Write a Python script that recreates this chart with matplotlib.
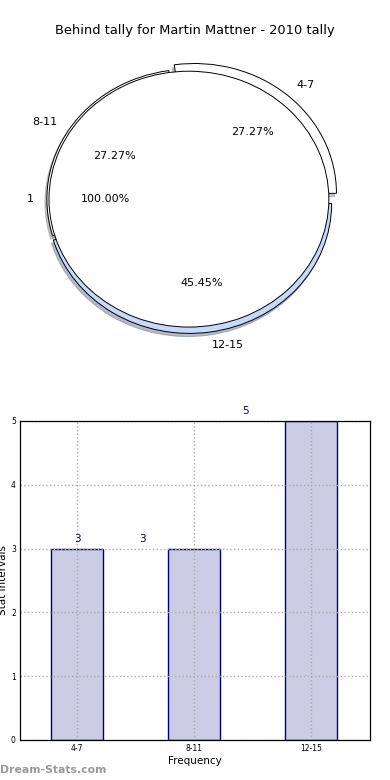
import numpy as np
import matplotlib
matplotlib.use('Agg')
from matplotlib import pyplot as plt

groups = ['4-7', '8-11', '12-15']
counts = [3, 3, 5]
inner_labels = ['1']
inner_counts = [1]
title = 'Behind tally for Martin Mattner - 2010 tally'

fig = plt.figure(figsize=(3.9, 7.8), dpi=100)
fig.text(0.499, 0.961, title, ha='center', va='center', fontsize=9.4)

shadow = dict(ox=-0.01, oy=-0.018, shade=0.45)

# pie: outer wedges per group, single inner wedge on top
ax1 = fig.add_axes([0.0359, 0.5397, 0.897, 0.410])
ax1.pie(counts, labels=groups, autopct='%.2f%%', startangle=0,
        explode=[0.06, 0.0, 0.035], shadow=shadow, radius=1.015,
        colors=['white', 'white', '#c6d9fd'], pctdistance=0.62,
        labeldistance=1.1,
        wedgeprops=dict(edgecolor='black', linewidth=0.7),
        textprops=dict(fontsize=8))
ax1.pie(inner_counts, labels=inner_labels, autopct='%.2f%%', startangle=0,
        shadow=shadow, radius=1.0, colors=['white'], pctdistance=0.6,
        labeldistance=1.11,
        wedgeprops=dict(edgecolor='black', linewidth=0.7),
        textprops=dict(fontsize=8))
ax1.set_aspect('auto')
ax1.set_xlim(-1.25, 1.25)
ax1.set_ylim(-1.25, 1.25)
ax1.axis('off')

# bar chart
ax2 = fig.add_axes([0.0513, 0.0513, 0.897, 0.409])
x = np.arange(len(groups))
bars = ax2.bar(x, counts, width=0.444, color='#cccce5', edgecolor='#000080',
               linewidth=1.0, zorder=0.4)
ax2.set_axisbelow(True)
ax2.set_xlim(-0.49, 2.5)
ax2.set_ylim(0, 5)
ax2.set_xticks(x)
ax2.set_xticklabels(groups)
ax2.set_yticks(range(6))
ax2.tick_params(labelsize=5.5, length=0, pad=3)
ax2.grid(True, linestyle=':', color='#aaaaaa', linewidth=1.0)
for s in ax2.spines.values():
    s.set_linewidth(0.9)
    s.set_zorder(3)
ax2.set_xlabel('Frequency', fontsize=7.5, labelpad=2)
ax2.set_ylabel('Stat Intervals', fontsize=7.5, labelpad=2)
ax2.yaxis.set_label_coords(-0.033, 0.5)

# value labels (drawn shifted like the original)
label_shift = [0.0, -0.444, -0.564]
for b, v, dx in zip(bars, counts, label_shift):
    ax2.text(b.get_x() + b.get_width() / 2 + dx, v + 0.07, str(v),
             ha='center', va='bottom', fontsize=7.5, color='#000080')

fig.text(0.0, 0.013, 'Dream-Stats.com', ha='left', va='center',
         fontsize=7.8, color='#9a9a9a', fontweight='bold')

fig.savefig('out.png', dpi=100)
